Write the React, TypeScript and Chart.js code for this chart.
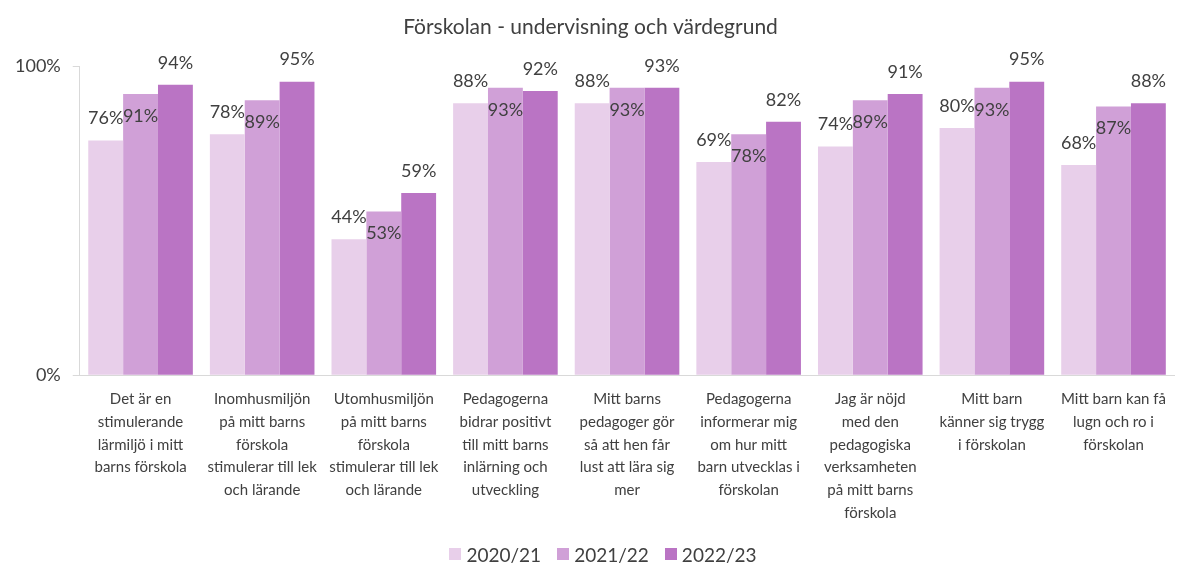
import React, { useEffect, useRef } from "react";
import { Chart, registerables } from "chart.js";

Chart.register(...registerables);

const title = "Förskolan - undervisning och värdegrund";
const categories: string[][] = [
  ["Det är en", "stimulerande", "lärmiljö i mitt", "barns förskola"],
  ["Inomhusmiljön", "på mitt barns", "förskola", "stimulerar till lek", "och lärande"],
  ["Utomhusmiljön", "på mitt barns", "förskola", "stimulerar till lek", "och lärande"],
  ["Pedagogerna", "bidrar positivt", "till mitt barns", "inlärning och", "utveckling"],
  ["Mitt barns", "pedagoger gör", "så att hen får", "lust att lära sig", "mer"],
  ["Pedagogerna", "informerar mig", "om hur mitt", "barn utvecklas i", "förskolan"],
  ["Jag är nöjd", "med den", "pedagogiska", "verksamheten", "på mitt barns", "förskola"],
  ["Mitt barn", "känner sig trygg", "i förskolan"],
  ["Mitt barn kan få", "lugn och ro i", "förskolan"],
];
const seriesNames = ["2020/21", "2021/22", "2022/23"];
const values2020 = [76, 78, 44, 88, 88, 69, 74, 80, 68];
const values2021 = [91, 89, 53, 93, 93, 78, 89, 93, 87];
const values2022 = [94, 95, 59, 92, 93, 82, 91, 95, 88];
const colors = ["#E8CFEA", "#D0A0D7", "#BA74C4"];

const FONT = "Lato, 'Open Sans', sans-serif";
const TEXT = "#404040";

const labelPlugin = {
  id: "barLabels",
  afterDatasetsDraw(chart: any) {
    const ctx = chart.ctx;
    ctx.save();
    ctx.font = `normal 18px ${FONT}`;
    ctx.fillStyle = TEXT;
    ctx.textAlign = "center";
    ctx.textBaseline = "middle";
    chart.data.datasets.forEach((ds: any, di: number) => {
      const meta = chart.getDatasetMeta(di);
      meta.data.forEach((bar: any, i: number) => {
        const v = ds.data[i];
        const y = di === 1 ? bar.y + 22 : bar.y - 22;
        ctx.fillText(v + "%", bar.x, y);
      });
    });
    ctx.restore();
  },
};

export default function App() {
  const ref = useRef<HTMLCanvasElement>(null);
  useEffect(() => {
    if (!ref.current) return;
    const chart = new Chart(ref.current, {
      type: "bar",
      data: {
        labels: categories,
        datasets: [values2020, values2021, values2022].map((d, i) => ({
          label: seriesNames[i],
          data: d,
          backgroundColor: colors[i],
          borderWidth: 0,
          barPercentage: 1,
          categoryPercentage: 0.86,
        })),
      },
      options: {
        animation: false,
        responsive: true,
        maintainAspectRatio: false,
        layout: { padding: { left: 3, right: 0, top: 0, bottom: 26 } },
        plugins: {
          title: {
            display: true,
            text: title,
            color: TEXT,
            font: { family: FONT, size: 21, weight: "normal" },
            padding: { top: 15, bottom: 26 },
          },
          legend: { display: false },
          tooltip: { enabled: false },
        },
        scales: {
          x: {
            grid: { display: false, drawTicks: false },
            border: { display: true, color: "#D9D9D9", width: 1 },
            ticks: {
              color: TEXT,
              font: { family: FONT, size: 15, weight: "normal", lineHeight: 1.53 },
              padding: 12,
              maxRotation: 0,
              autoSkip: false,
            },
          },
          y: {
            min: 0,
            max: 100,
            grid: { display: true, drawOnChartArea: false, drawTicks: true, tickLength: 7, color: "#D9D9D9" },
            border: { display: true, color: "#D9D9D9", width: 1 },
            ticks: {
              stepSize: 100,
              color: TEXT,
              font: { family: FONT, size: 18, weight: "normal" },
              padding: 12,
              callback: (v: any) => v + "%",
            },
          },
        },
      },
      plugins: [labelPlugin],
    });
    return () => chart.destroy();
  }, []);
  return (
    <div style={{ position: "fixed", left: 0, top: 0, width: 1178, height: 563, background: "#fff" }}>
      <div style={{ position: "absolute", left: 0, top: 0, width: 1178, height: 563 }}>
        <canvas ref={ref} />
      </div>
      <div
        style={{
          position: "absolute",
          left: 28,
          width: 1150,
          top: 542,
          height: 24,
          display: "flex",
          justifyContent: "center",
          alignItems: "center",
          gap: 16,
          fontFamily: FONT,
          fontSize: 19,
          color: TEXT,
        }}
      >
        {seriesNames.map((n, i) => (
          <div key={n} style={{ display: "flex", alignItems: "center", gap: 5 }}>
            <span style={{ display: "inline-block", width: 12, height: 12, background: colors[i] }} />
            <span>{n}</span>
          </div>
        ))}
      </div>
    </div>
  );
}
